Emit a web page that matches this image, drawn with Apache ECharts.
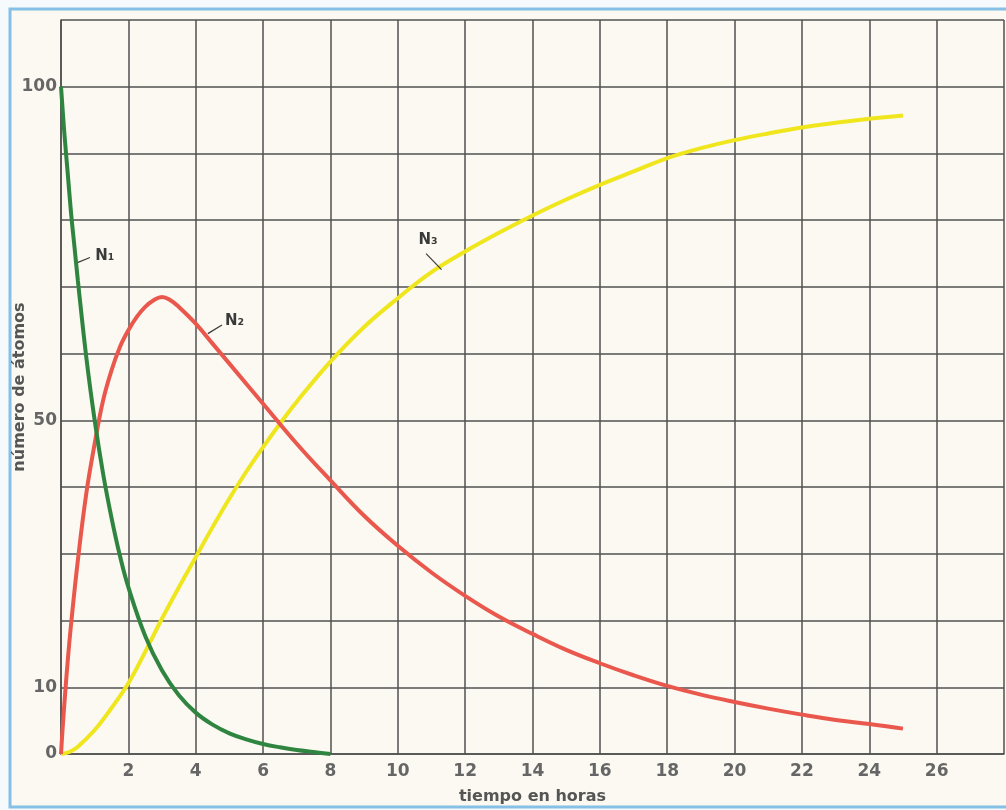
<!DOCTYPE html>
<html>
<head>
<meta charset="utf-8">
<script src="https://cdn.jsdelivr.net/npm/echarts@6/dist/echarts.min.js"></script>
<style>
html,body{margin:0;padding:0;background:#f7fafc;}
#c{width:1006px;height:810px;}
</style>
</head>
<body>
<div id="c"></div>
<script>
// time (hours) and number of atoms
const tN1 = [0,0.1,0.2,0.3,0.4,0.5,0.75,1,1.25,1.5,1.75,2,2.5,3,3.5,4,4.5,5,5.5,6,6.5,7,7.5,8];
const n1  = [100,93,87,81,76,71,59.5,50,42,35.4,29.7,25,17.7,12.5,8.8,6.2,4.4,3.1,2.2,1.5,1.0,0.6,0.3,0];

const tN2 = [0,0.05,0.1,0.2,0.3,0.5,0.75,1,1.25,1.5,1.75,2,2.25,2.5,2.75,3,3.25,3.5,4,4.5,5,6,7,8,9,10,11,12,13,14,15,16,17,18,19,20,21,22,23,24,25];
const n2  = [0,4,7.5,14,19.5,29,39,46.5,53,57.5,61,63.5,65.5,67,68,68.5,68,67,64.5,61.5,58.5,52.5,46.5,41,35.7,31.2,27.2,23.7,20.6,18,15.6,13.6,11.8,10.2,8.9,7.8,6.8,5.9,5.1,4.5,3.8];

const tN3 = [0,0.25,0.5,1,1.5,2,2.5,3,3.5,4,4.5,5,5.5,6,6.5,7,8,9,10,11,12,13,14,15,16,17,18,19,20,21,22,23,24,25];
const n3  = [0,0.3,1.1,3.6,6.9,10.6,15.3,20.3,25,29.5,34,38.3,42.3,46,49.5,52.8,58.8,64,68.3,72.2,75.3,78.1,80.7,83.1,85.3,87.3,89.3,90.8,92.0,93.0,93.9,94.6,95.2,95.7];

const yTickLabels = [0,10,50,100];
const xTickLabels = [2,4,6,8,10,12,14,16,18,20,22,24,26];

const seriesNames = ['N₁','N₂','N₃'];
// label anchor (curve point, label end, text position) in data units
const lead1 = [[0.47,73.6],[0.86,74.4],[1.3,74.6]];
const lead2 = [[4.36,63],[4.78,64.3],[5.15,64.8]];
const lead3 = [[11.3,72.6],[10.84,75],[10.9,77.0]];

function pairs(t, v){ return t.map((x,i)=>[x, v[i]]); }

const FONT = 'DejaVu Sans';
function leader(l, name){
  return {
    markLine: {
      silent:true, symbol:['none','none'],
      lineStyle:{color:'#3a3a3a', width:1.2, type:'solid'},
      label:{show:false},
      data:[[{coord:l[0]},{coord:l[1]}]]
    },
    markPoint: {
      silent:true, symbol:'circle', symbolSize:0,
      data:[{coord:l[2]}],
      label:{show:true, position:'inside', formatter:name, color:'#3a3a3a',
             fontFamily:FONT, fontWeight:'bold', fontSize:15}
    }
  };
}

const chart = echarts.init(document.getElementById('c'), null, {renderer:'canvas'});
chart.setOption({
  backgroundColor:'#f7fafc',
  animation:false,
  graphic:[{
    type:'rect', z:-10, silent:true,
    shape:{x:10, y:9, width:1010, height:798},
    style:{fill:'#fbf9f1', stroke:'#86c0e6', lineWidth:3}
  }],
  grid:{left:61, right:2, top:20, bottom:56, containLabel:false, outerBoundsMode:'none'},
  xAxis:{
    type:'value', min:0, max:28, interval:2,
    name:'tiempo en horas', nameLocation:'middle', nameGap:35, nameMoveOverlap:false,
    nameTextStyle:{fontFamily:FONT, fontWeight:'bold', fontSize:16, color:'#555'},
    axisLine:{show:true, lineStyle:{color:'#505050', width:1.5}},
    axisTick:{show:false},
    axisLabel:{margin:9, fontFamily:FONT, fontWeight:'bold', fontSize:17, color:'#666',
      formatter:v => xTickLabels.includes(v) ? String(v) : ''},
    splitLine:{show:true, lineStyle:{color:'#505050', width:1.5}}
  },
  yAxis:{
    type:'value', min:0, max:110, interval:10,
    name:'número de átomos', nameLocation:'middle', nameGap:33, nameMoveOverlap:false,
    nameTextStyle:{fontFamily:FONT, fontWeight:'bold', fontSize:16, color:'#555'},
    axisLine:{show:true, lineStyle:{color:'#505050', width:1.5}},
    axisTick:{show:false},
    axisLabel:{margin:4, fontFamily:FONT, fontWeight:'bold', fontSize:17, color:'#666',
      formatter:v => yTickLabels.includes(v) ? String(v) : ''},
    splitLine:{show:true, lineStyle:{color:'#505050', width:1.5}}
  },
  series:[
    Object.assign({
      name:seriesNames[2], type:'line', data:pairs(tN3,n3), showSymbol:false,
      smooth:0.4, z:3,
      lineStyle:{color:'#f0e61e', width:4}
    }, leader(lead3, seriesNames[2])),
    Object.assign({
      name:seriesNames[1], type:'line', data:pairs(tN2,n2), showSymbol:false,
      smooth:0.4, z:4,
      lineStyle:{color:'#e9574d', width:4}
    }, leader(lead2, seriesNames[1])),
    Object.assign({
      name:seriesNames[0], type:'line', data:pairs(tN1,n1), showSymbol:false,
      smooth:0.4, z:5,
      lineStyle:{color:'#2f8540', width:4}
    }, leader(lead1, seriesNames[0]))
  ]
});
</script>
</body>
</html>
